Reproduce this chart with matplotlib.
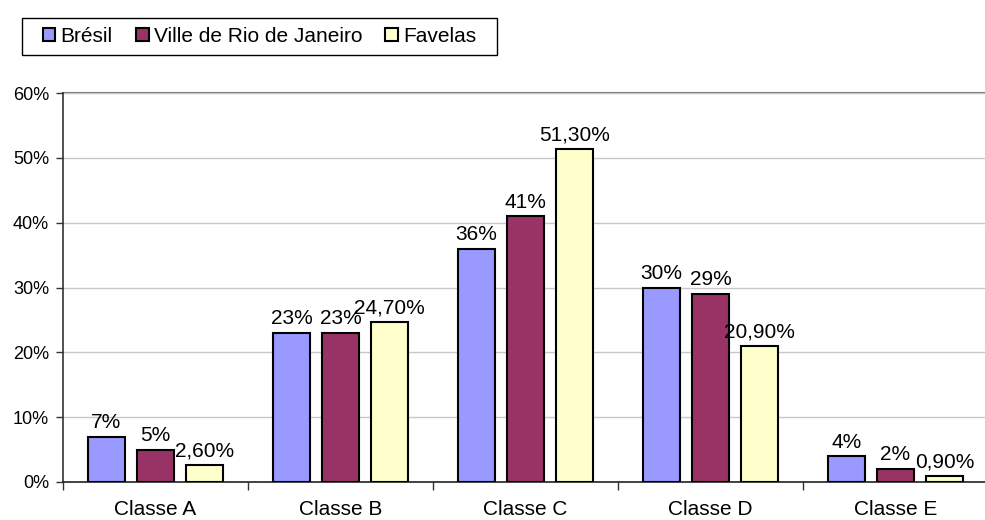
import matplotlib
matplotlib.use("Agg")
import matplotlib.pyplot as plt
import numpy as np
from matplotlib.patches import Patch, Rectangle

categories = ["Classe A", "Classe B", "Classe C", "Classe D", "Classe E"]
series_names = ["Brésil", "Ville de Rio de Janeiro", "Favelas"]
bresil = [7, 23, 36, 30, 4]
rio = [5, 23, 41, 29, 2]
favelas = [2.6, 24.7, 51.3, 20.9, 0.9]
labels_bresil = ["7%", "23%", "36%", "30%", "4%"]
labels_rio = ["5%", "23%", "41%", "29%", "2%"]
labels_favelas = ["2,60%", "24,70%", "51,30%", "20,90%", "0,90%"]
yticks = [0, 10, 20, 30, 40, 50, 60]
ytick_labels = ["0%", "10%", "20%", "30%", "40%", "50%", "60%"]

colors = ["#9999FF", "#993366", "#FFFFCC"]

plt.rcParams['font.family'] = ['Liberation Sans', 'DejaVu Sans']

W, H = 985, 520
fig = plt.figure(figsize=(W / 100, H / 100), dpi=100)
ax = fig.add_axes([63/W, 1-482/H, (988-63)/W, (482-93)/H])

x = np.arange(len(categories))
width = 0.195
offset = 0.265
data = [bresil, rio, favelas]
labs = [labels_bresil, labels_rio, labels_favelas]
for i, (vals, lab) in enumerate(zip(data, labs)):
    pos = x + (i - 1) * offset
    ax.bar(pos, vals, width, color=colors[i], edgecolor="black", linewidth=1.5, zorder=3)
    for p, v, t in zip(pos, vals, lab):
        ax.text(p, v + 0.7, t, ha="center", va="bottom", fontsize=15, zorder=4)

ax.set_xlim(-0.5, len(categories) - 0.5)
ax.set_ylim(0, 60)
ax.set_yticks(yticks)
ax.set_yticklabels(ytick_labels, fontsize=13)
ax.set_xticks(x)
ax.set_xticklabels(categories, fontsize=15)
ax.set_xticks(np.arange(-0.5, len(categories)), minor=True)
ax.tick_params(axis="x", which="major", length=0, pad=13)
ax.tick_params(axis="x", which="minor", length=6, width=1, color="#333333")
ax.tick_params(axis="y", length=5, width=1, color="#333333", pad=5)

ax.yaxis.grid(True, color="#c8c8c8", linewidth=1, zorder=0)
for s in ["top", "right"]:
    ax.spines[s].set_visible(False)
ax.spines["left"].set_color("#333333")
ax.spines["bottom"].set_color("#222222")
ax.spines["left"].set_linewidth(1.2)
ax.spines["bottom"].set_linewidth(1.2)
ax.axhline(60, color="#808080", linewidth=1.5, zorder=1, clip_on=False)

# legend box
x0, x1, y0, y1 = 22, 497, 18, 55
fig.patches.append(Rectangle((x0/W, 1-y1/H), (x1-x0)/W, (y1-y0)/H, transform=fig.transFigure,
                             facecolor="white", edgecolor="black", linewidth=1.0, zorder=0))
handles = [Patch(facecolor=c, edgecolor="black", linewidth=1.5) for c in colors]
leg = fig.legend(handles, series_names, loc="center",
                 bbox_to_anchor=((x0 + x1) / 2 / W, 1 - (y0 + y1) / 2 / H),
                 ncol=3, fontsize=15, frameon=False,
                 handlelength=0.62, handleheight=0.62, handletextpad=0.25, columnspacing=1.1,
                 borderpad=0.0, borderaxespad=0)

fig.savefig("out.png", dpi=100)
